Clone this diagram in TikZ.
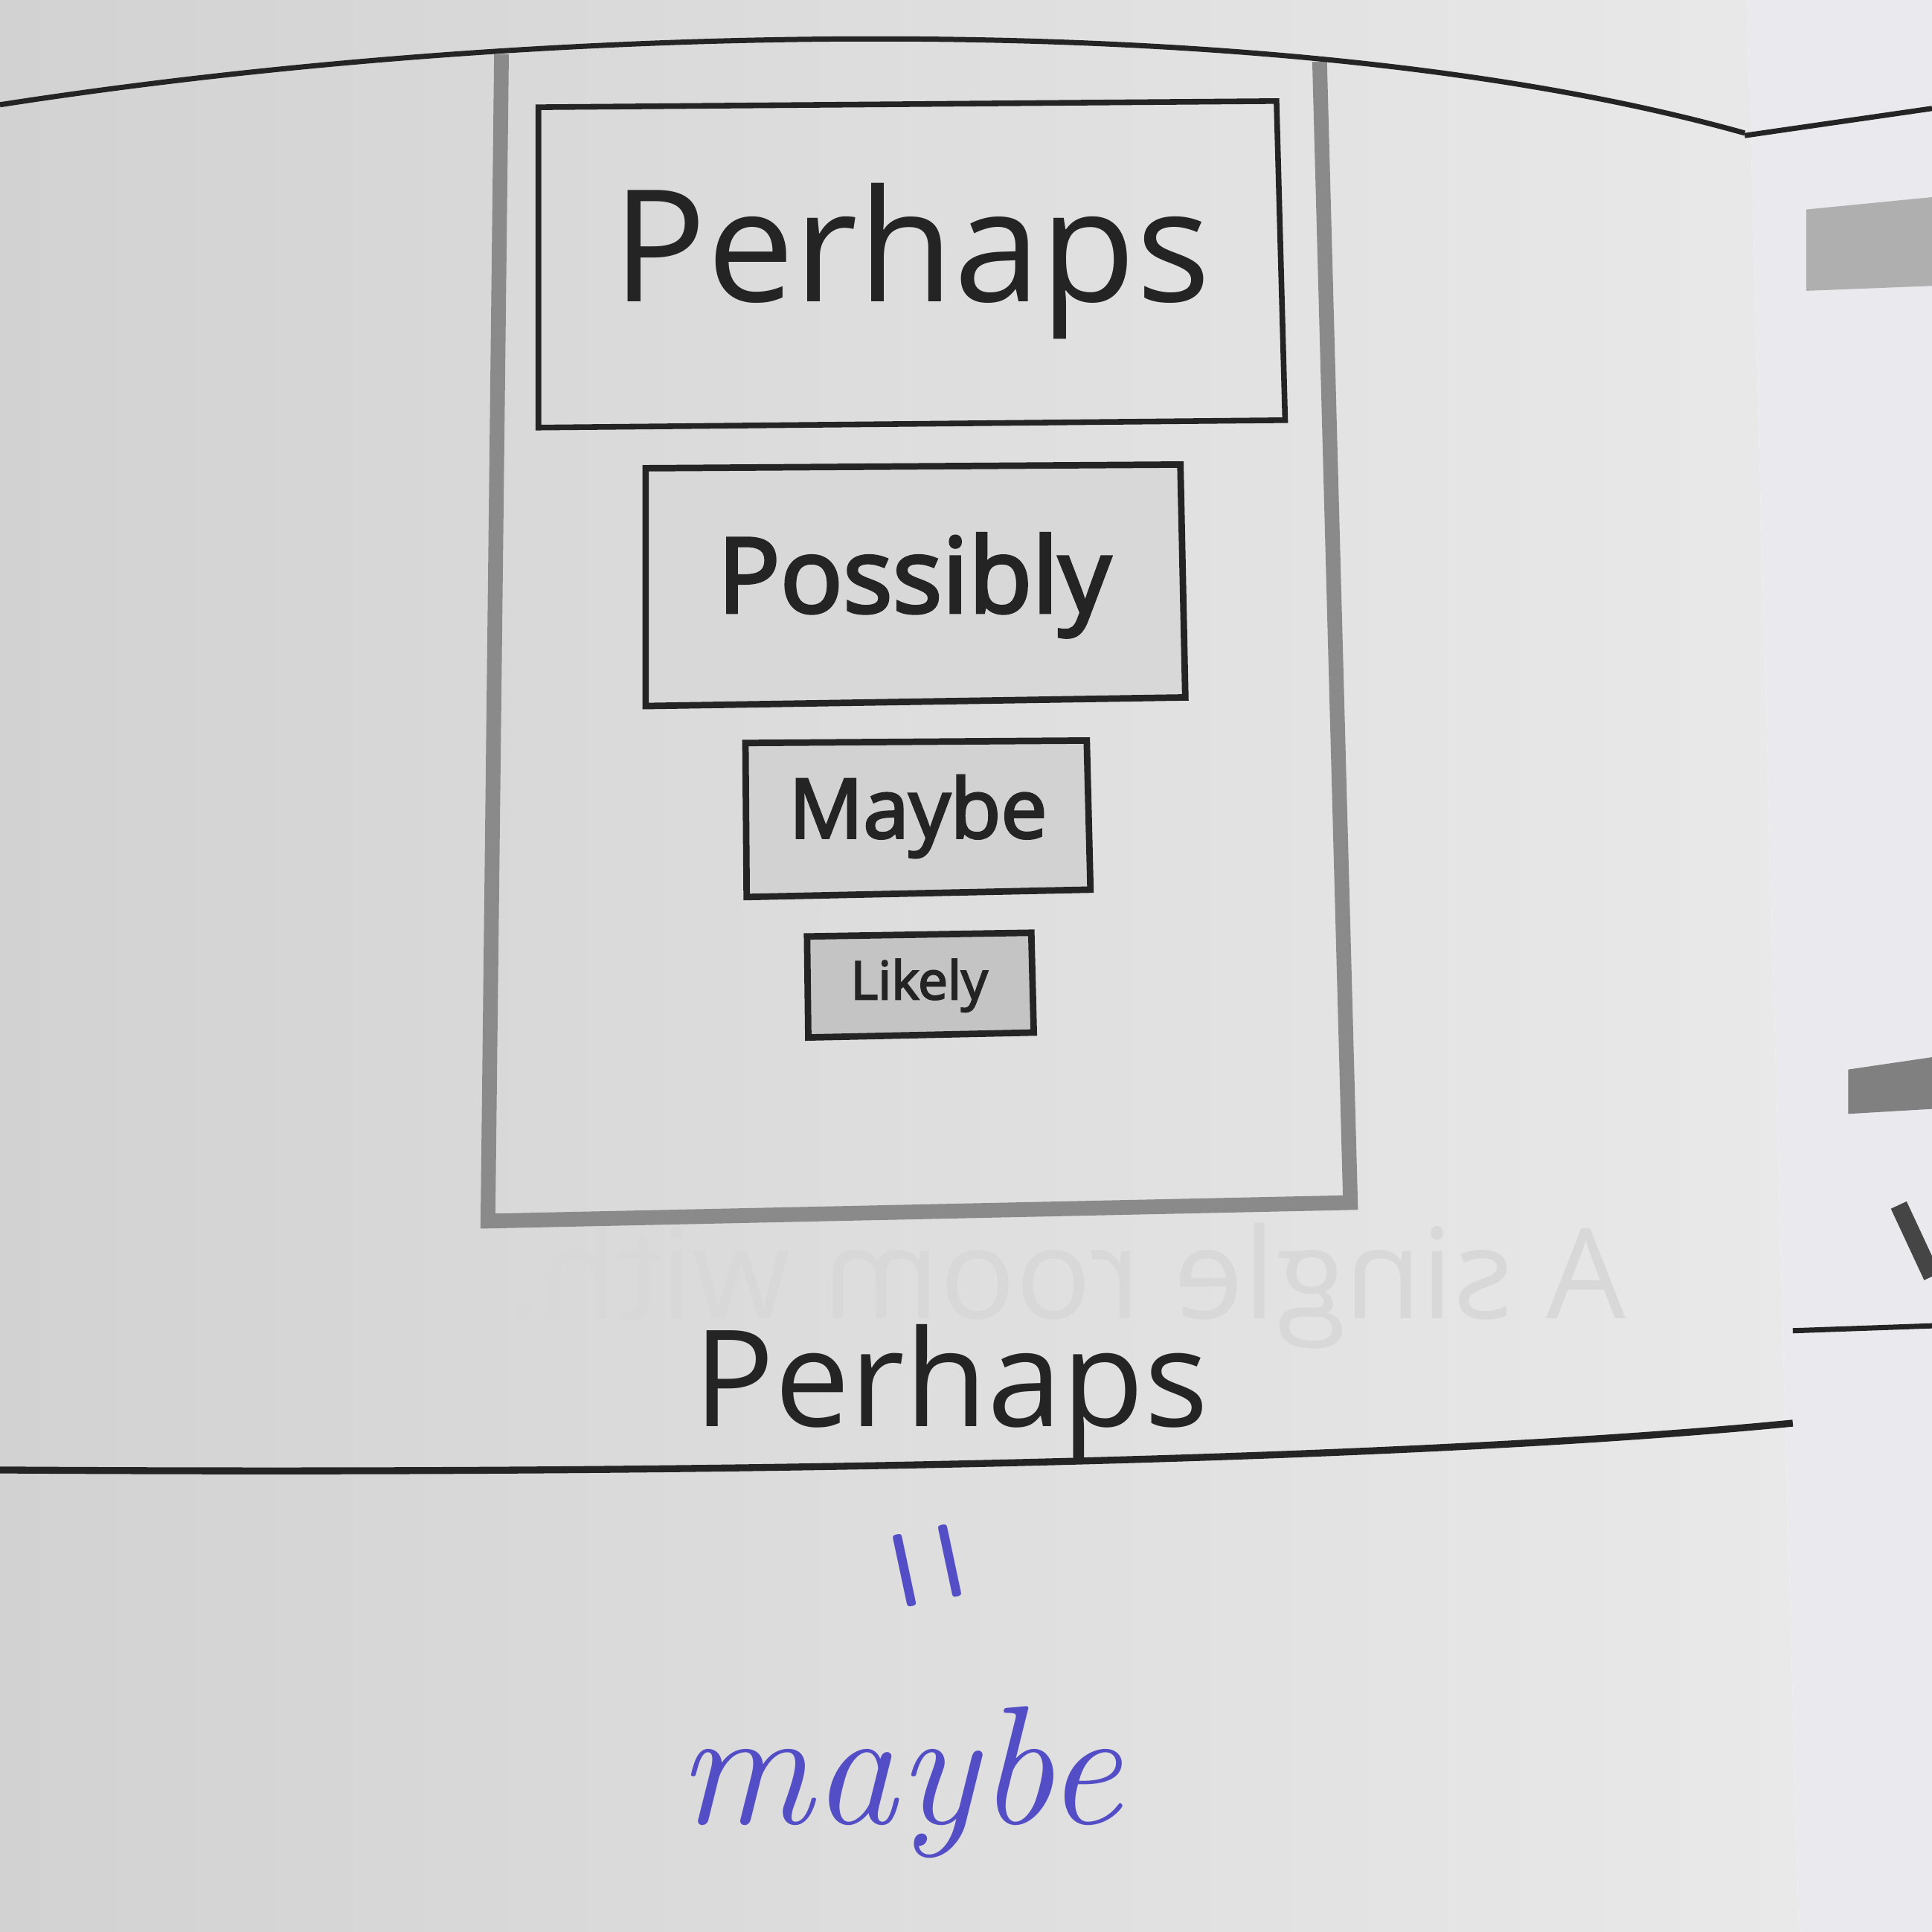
\documentclass[tikz,border=0pt]{standalone}
\usepackage{fontspec}
\newfontfamily\osans{Open Sans}
\newfontfamily\osansm[FakeBold=3]{Open Sans}
\definecolor{pageL}{RGB}{210,210,210}
\definecolor{pageM}{RGB}{226,226,226}
\definecolor{pageR}{RGB}{233,233,234}
\definecolor{rpage}{RGB}{234,234,238}
\definecolor{ink}{RGB}{36,36,36}
\definecolor{framecol}{RGB}{138,138,138}
\definecolor{fillA}{RGB}{216,216,216}
\definecolor{fillB}{RGB}{210,210,210}
\definecolor{fillC}{RGB}{196,196,196}
\definecolor{pen}{RGB}{84,78,198}
\definecolor{ghost}{RGB}{216,216,216}
\definecolor{smudge}{RGB}{150,150,150}
\tikzset{
  rule/.style={draw=ink, line width=1.2pt},
  boxline/.style={draw=ink, line width=1.5pt, line join=miter},
  framestyle/.style={draw=framecol, line width=3.4pt, line join=miter},
  label/.style={text=ink, inner sep=0pt, anchor=base},
}
\begin{document}
\begin{tikzpicture}[x=0.01cm, y=-0.01cm]
\useasboundingbox (0,0) rectangle (1568,1568);
% pages
\shade[left color=pageL, middle color=pageM, right color=pageR] (0,0) -- (1418,0) -- (1460,1568) -- (0,1568) -- cycle;
\fill[rpage] (1418,0) -- (1568,0) -- (1568,1568) -- (1460,1568) -- cycle;
% right page bits
\fill[smudge!70!rpage] (1466,170) -- (1568,160) -- (1568,232) -- (1466,236) -- cycle;
\fill[smudge!85!black] (1500,868) -- (1568,858) -- (1568,900) -- (1500,904) -- cycle;
\draw[ink!85, line width=4pt] (1541,978) -- (1568,1036);
\draw[rule] (1416,110) -- (1568,88);
\draw[rule] (1455,1080) -- (1568,1076);
% ghost show-through text
\node[text=ghost, xscale=-1, font=\osans\fontsize{29}{32}\selectfont, anchor=base] (ghosttxt) at (838,1070) {A single room with...};
% frame
\draw[framestyle] (407,44) -- (396,991) -- (1096,976) -- (1071,50);
% top and bottom rules
\draw[rule] (0,85) .. controls (450,15) and (1050,5) .. (1416,108);
\draw[rule, line width=1.6pt] (0,1193) .. controls (600,1197) and (1150,1185) .. (1455,1155);
% boxes
\draw[boxline, line width=1.3pt] (437,87) -- (1036,82) -- (1043,341) -- (437,347) -- cycle;
\draw[boxline, fill=fillA] (524,380) -- (958,377) -- (962,566) -- (524,573) -- cycle;
\draw[boxline, fill=fillB] (605,603) -- (882,601) -- (885,722) -- (606,728) -- cycle;
\draw[boxline, fill=fillC] (655,760) -- (837,757) -- (839,838) -- (656,842) -- cycle;
% labels
\node[label, font=\osans\fontsize{36}{40}\selectfont] (perhaps) at (740,245) {Perhaps};
\node[label, font=\osansm\fontsize{24}{28}\selectfont] (possibly) at (742,497) {Possibly};
\node[label, font=\osansm\fontsize{19}{22}\selectfont] (maybe) at (745,680) {Maybe};
\node[label, font=\osansm\fontsize{12.2}{14}\selectfont] (likely) at (746,811) {Likely};
\node[label, font=\osans\fontsize{31}{34}\selectfont] (caption) at (772,1158) {Perhaps};
% handwriting
\node[text=pen, inner sep=0pt, rotate=-78, xscale=1.35, yscale=3.0, font=\fontsize{20}{22}\selectfont] (eq) at (738,1274) {=};
\node[text=pen, inner sep=0pt, anchor=base, font=\itshape\fontsize{39}{44}\selectfont] (hand) at (730,1480) {maybe};
\end{tikzpicture}
\end{document}
